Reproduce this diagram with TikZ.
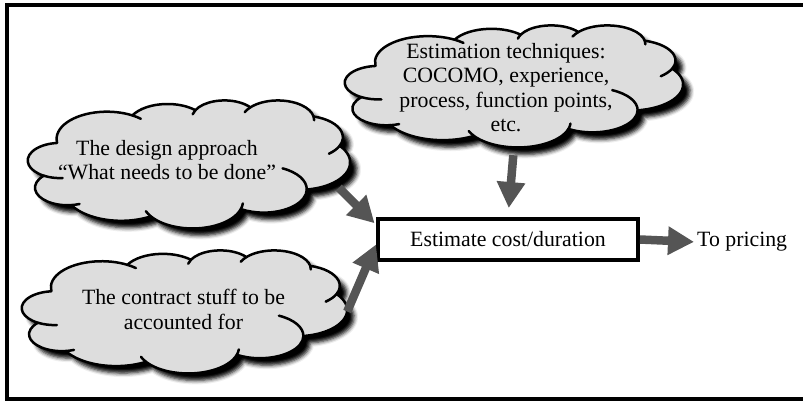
\documentclass[tikz,border=0pt]{standalone}
\usepackage{fontspec}
\setmainfont{Liberation Serif}
\usetikzlibrary{shapes.geometric,arrows.meta,calc,shadows.blur}
\definecolor{cloudgray}{RGB}{221,221,221}
\definecolor{arrowgray}{RGB}{85,85,85}
% outline of a thought cloud on a 43.2 x 43.2 grid (y pointing down)
\newcommand\cloudoutline{(3.900,14.370)
 arc[start angle=-187.75, end angle=-59.64, x radius=6.753, y radius=9.190] coordinate (j1)
 arc[start angle=-152.02, end angle=-45.45, x radius=5.333, y radius=7.267] coordinate (j2)
 arc[start angle=-153.49, end angle=-37.34, x radius=4.365, y radius=5.945] coordinate (j3)
 arc[start angle=-139.71, end angle=-10.22, x radius=4.857, y radius=6.595] coordinate (j4)
 arc[start angle=-74.77, end angle=23.22, x radius=5.333, y radius=7.273] coordinate (j5)
 arc[start angle=-37.54, end angle=81.86, x radius=6.775, y radius=9.220] coordinate (j6)
 arc[start angle=0.46, end angle=121.98, x radius=5.785, y radius=7.867] coordinate (j7)
 arc[start angle=16.84, end angle=146.23, x radius=6.752, y radius=9.215] coordinate (j8)
 arc[start angle=58.98, end angle=150.19, x radius=7.720, y radius=10.543] coordinate (j9)
 arc[start angle=-276.69, end angle=-136.88, x radius=4.360, y radius=5.918] coordinate (j10)
 arc[start angle=-239.66, end angle=-95.89, x radius=4.345, y radius=5.945] -- cycle}
% the small creases where the puffs meet
\newcommand\cloudcreases{
 (j1) arc[start angle=-59.64, delta angle=12, x radius=6.753, y radius=9.190]
 (j2) arc[start angle=-153.49, delta angle=-14.23, x radius=4.365, y radius=5.945]
 (j3) arc[start angle=-139.71, delta angle=-16.58, x radius=4.857, y radius=6.595]
 (j4) arc[start angle=-10.22, delta angle=11.04, x radius=4.857, y radius=6.595]
 (j5) arc[start angle=23.22, delta angle=26.42, x radius=5.333, y radius=7.273]
 (j6) arc[start angle=0.46, delta angle=-64.48, x radius=5.785, y radius=7.867]
 (j7) arc[start angle=16.84, delta angle=-12.1, x radius=6.752, y radius=9.215]
 (j8) arc[start angle=146.23, delta angle=12.24, x radius=6.752, y radius=9.215]
 (j9) arc[start angle=-276.69, delta angle=-15.08, x radius=4.360, y radius=5.918]
 (j10) arc[start angle=-239.66, delta angle=-34.8, x radius=4.345, y radius=5.945]}
% #1 anchor node, #2 x unit, #3 y unit
\newcommand\thoughtcloud[3]{%
 \begin{scope}[x=#2, y=-#3, shift={(#1.center)}, shift={(-21.6,-21.6)}]
  \path[cloudfill] \cloudoutline;
  \draw[cloudline] \cloudcreases;
 \end{scope}}
\begin{document}
\begin{tikzpicture}[x=1pt,y=-1pt,
  cloudfill/.style={draw=black, line width=2.5pt, fill=cloudgray, line join=round,
    blur shadow={shadow xshift=7pt, shadow yshift=-7pt, shadow blur radius=4pt, shadow opacity=100}},
  cloudline/.style={draw=black, line width=2.5pt, line cap=round},
  cloudspot/.style={ellipse, inner sep=0pt},
  words/.style={align=center, font=\fontsize{21.8}{24.5}\selectfont, inner sep=0pt},
  stepbox/.style={draw=black, line width=4pt, minimum width=260pt, minimum height=41pt,
    inner sep=0pt, font=\fontsize{21.8}{24.5}\selectfont},
  fat arrow/.style={draw=arrowgray, line width=8.5pt, -{Triangle[width=27pt,length=26pt]}},
]
\useasboundingbox (0,0) rectangle (803,400);
% outer frame (its right side runs past the page)
\draw[line width=4pt] (7,5) rectangle (815,398.5);

% the three thought clouds
\node[cloudspot, minimum width=338pt, minimum height=122pt] (est) at (514,86) {};
\thoughtcloud{est}{7.8241pt}{2.8241pt}
\node[words] (esttxt) at (506,87.5)
  {Estimation techniques:\\COCOMO, experience,\\process, function points,\\etc.};

\node[cloudspot, minimum width=322pt, minimum height=128pt] (design) at (189,164) {};
\thoughtcloud{design}{7.4537pt}{2.9630pt}
\node[words] (designtxt) at (167,160) {The design approach\\“What needs to be done”};

\node[cloudspot, minimum width=325pt, minimum height=123pt] (contract) at (184.5,311.5) {};
\thoughtcloud{contract}{7.5231pt}{2.8472pt}
\node[words] (contracttxt) at (183.5,309.5) {The contract stuff to be\\accounted for};

% central step and its output
\node[stepbox] (estbox) at (508,239.5) {Estimate cost/duration};
\node[words, anchor=west] (price) at (697,242) {To pricing};

% connectors
\draw[fat arrow, shorten <=8pt, shorten >=9pt] (est.south) -- (estbox.north);
\draw[fat arrow, shorten >=2pt] (design.-9) -- ($(estbox.north west)!0.17!(estbox.south west)$);
\draw[fat arrow] (contract.east) -- ($(estbox.north west)!0.61!(estbox.south west)$);
\draw[fat arrow, shorten >=3pt] (estbox.east) -- (price.west);
\end{tikzpicture}
\end{document}
